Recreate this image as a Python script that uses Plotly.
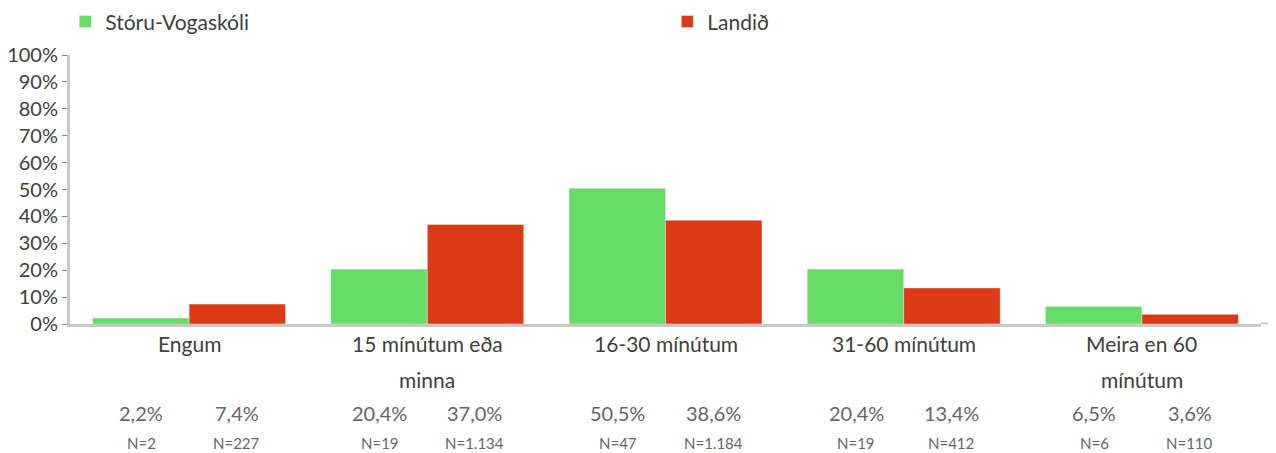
import plotly.graph_objects as go

categories = ["Engum", "15 mínútum eða|minna", "16-30 mínútum", "31-60 mínútum", "Meira en 60|mínútum"]
school = [2.2, 20.4, 50.5, 20.4, 6.5]
country = [7.4, 37.0, 38.6, 13.4, 3.6]
school_n = ["N=2", "N=19", "N=47", "N=19", "N=6"]
country_n = ["N=227", "N=1.134", "N=1.184", "N=412", "N=110"]
series_names = ["Stóru-Vogaskóli", "Landið"]

GREEN = "#66DD66"
RED = "#DD3914"
TXT = "#404040"
FONT = "Lato, Noto Sans, sans-serif"

xs = list(range(len(categories)))
fig = go.Figure()
fig.add_trace(go.Bar(x=xs, y=school, name=series_names[0], marker=dict(color=GREEN),
                     legend="legend", showlegend=True))
fig.add_trace(go.Bar(x=xs, y=country, name=series_names[1], marker=dict(color=RED),
                     legend="legend2", showlegend=True))

def fmt(v):
    return f"{v:.1f}".replace(".", ",") + "%"

ann = []
for i, cat in enumerate(categories):
    lines = cat.split("|")
    for k, line in enumerate(lines):
        ann.append(dict(x=i, y=-0.071 - k * 0.137, xref="x", yref="paper", text=line,
                        showarrow=False, font=dict(size=21, color=TXT), yanchor="middle"))
    for off, vals, ns in ((-0.2, school, school_n), (0.2, country, country_n)):
        ann.append(dict(x=i + off, y=-0.331, xref="x", yref="paper", text=fmt(vals[i]),
                        showarrow=False, font=dict(size=20, color="#666666"), yanchor="middle"))
        ann.append(dict(x=i + off, y=-0.442, xref="x", yref="paper", text=ns[i],
                        showarrow=False, font=dict(size=15, color="#666666"), yanchor="middle"))

leg = dict(orientation="h", y=1.123, xanchor="left", yanchor="middle", visible=True,
           font=dict(size=21, color=TXT), itemwidth=30, bgcolor="rgba(0,0,0,0)")

# page body adds an 8px offset, so the figure is sized to fit the window
fig.update_layout(
    width=1268, height=445,
    margin=dict(l=62, r=15, t=47, b=129, autoexpand=False),
    barmode="group", bargap=0.19, bargroupgap=0,
    plot_bgcolor="white", paper_bgcolor="white",
    font=dict(family=FONT, color=TXT, size=18),
    showlegend=True,
    legend=dict(leg, x=-0.004),
    legend2=dict(leg, x=0.5015),
    xaxis=dict(range=[-0.5, 4.5], showticklabels=False, showgrid=False, zeroline=False,
               showline=True, linecolor="#C8C8C8", linewidth=3, ticks=""),
    yaxis=dict(range=[0, 100], dtick=10, ticksuffix="%", showgrid=False, zeroline=False,
               showline=True, linecolor="#C8C8C8", linewidth=3, ticks="outside",
               ticklen=5, tickcolor="#888888", tickfont=dict(size=20, color=TXT)),
    annotations=ann,
)
fig.add_shape(type="line", xref="paper", yref="y", x0=1, x1=1.01, y0=0, y1=0,
              line=dict(color="#C8C8C8", width=3))

fig.write_html("out.html")
